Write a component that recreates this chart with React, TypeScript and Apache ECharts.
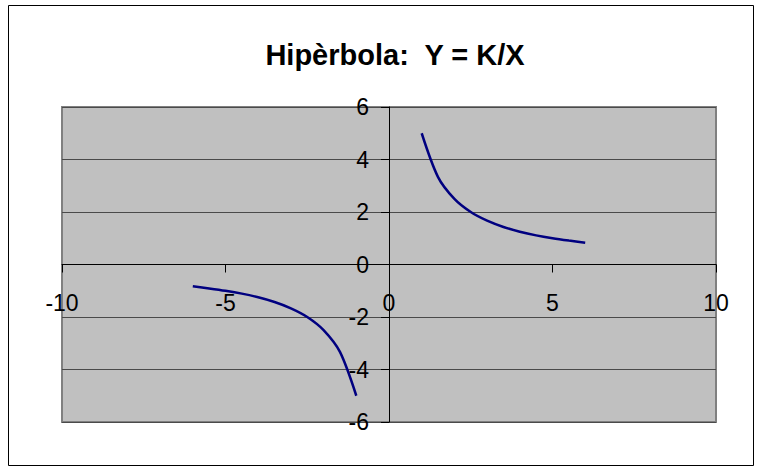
import React, { useEffect, useRef } from "react";
import * as echarts from "echarts";

const TITLE = "Hipèrbola:  Y = K/X";
const xPositive = [1, 1.5, 2, 2.5, 3, 3.5, 4, 4.5, 5, 5.5, 6];
const yPositive = [5, 3.33, 2.5, 2, 1.67, 1.43, 1.25, 1.11, 1, 0.91, 0.83];
const xNegative = [-6, -5.5, -5, -4.5, -4, -3.5, -3, -2.5, -2, -1.5, -1];
const yNegative = [-0.83, -0.91, -1, -1.11, -1.25, -1.43, -1.67, -2, -2.5, -3.33, -5];
const xTicks = { min: -10, max: 10, interval: 5 };
const yTicks = { min: -6, max: 6, interval: 2 };

const FONT = "'Liberation Sans', Arial, sans-serif";

export default function App() {
  const ref = useRef<HTMLDivElement>(null);
  useEffect(() => {
    document.body.style.margin = "0";
    if (!ref.current) return;
    const chart = echarts.init(ref.current, null, { renderer: "svg" });
    const pos = xPositive.map((x, i) => [x, yPositive[i]]);
    const neg = xNegative.map((x, i) => [x, yNegative[i]]);
    const gridLeft = 62;
    const gridRight = 43;
    const gridTop = 107;
    const gridBottom = 48;
    const gridW = 759 - gridLeft - gridRight;
    const gridH = 470 - gridTop - gridBottom;
    const xZeroOffset = (gridW * (0 - xTicks.min)) / (xTicks.max - xTicks.min);
    const yZeroOffset = (gridH * (0 - yTicks.min)) / (yTicks.max - yTicks.min);
    const labelStyle = { fontFamily: FONT, fontSize: 23, color: "#000" };
    chart.setOption({
      animation: false,
      backgroundColor: "#ffffff",
      title: {
        text: TITLE,
        left: 390,
        textAlign: "center",
        top: 35,
        textStyle: { fontFamily: FONT, fontWeight: "bold", fontSize: 29, color: "#000" },
      },
      graphic: [
        {
          type: "rect",
          shape: { x: 8.5, y: 5.5, width: 745, height: 460 },
          style: { fill: "none", stroke: "#000", lineWidth: 1 },
          silent: true,
        },
      ],
      grid: {
        left: gridLeft,
        right: gridRight,
        top: gridTop,
        bottom: gridBottom,
        show: true,
        backgroundColor: "#C0C0C0",
        borderColor: "#808080",
        borderWidth: 2,
      },
      xAxis: [
        {
          type: "value",
          position: "bottom",
          min: xTicks.min,
          max: xTicks.max,
          interval: xTicks.interval,
          axisLine: { show: true, onZero: true, lineStyle: { color: "#000", width: 1 } },
          axisTick: { show: true, inside: false, length: 8, lineStyle: { color: "#000" } },
          axisLabel: { show: false },
          splitLine: { show: false },
        },
        {
          type: "value",
          position: "bottom",
          offset: -yZeroOffset,
          min: xTicks.min,
          max: xTicks.max,
          interval: xTicks.interval,
          axisLine: { show: false, onZero: false },
          axisTick: { show: false },
          axisLabel: { show: true, margin: 27, showMinLabel: true, showMaxLabel: true, ...labelStyle },
          splitLine: { show: false },
        },
      ],
      yAxis: [
        {
          type: "value",
          position: "left",
          min: yTicks.min,
          max: yTicks.max,
          interval: yTicks.interval,
          axisLine: { show: true, onZero: true, lineStyle: { color: "#000", width: 1 } },
          axisTick: { show: true, inside: false, length: 8, lineStyle: { color: "#000" } },
          axisLabel: { show: false },
          splitLine: { show: true, lineStyle: { color: "#4a4a4a", width: 1 } },
        },
        {
          type: "value",
          position: "left",
          offset: -xZeroOffset,
          min: yTicks.min,
          max: yTicks.max,
          interval: yTicks.interval,
          axisLine: { show: false, onZero: false },
          axisTick: { show: false },
          axisLabel: { show: true, margin: 20, showMinLabel: true, showMaxLabel: true, ...labelStyle },
          splitLine: { show: false },
        },
      ],
      series: [
        {
          type: "line",
          data: pos,
          smooth: 0.3,
          showSymbol: false,
          lineStyle: { color: "#000080", width: 2.5 },
          itemStyle: { color: "#000080" },
        },
        {
          type: "line",
          data: neg,
          smooth: 0.3,
          showSymbol: false,
          lineStyle: { color: "#000080", width: 2.5 },
          itemStyle: { color: "#000080" },
        },
      ],
    });
    return () => chart.dispose();
  }, []);
  return <div ref={ref} style={{ width: 759, height: 470 }} />;
}
